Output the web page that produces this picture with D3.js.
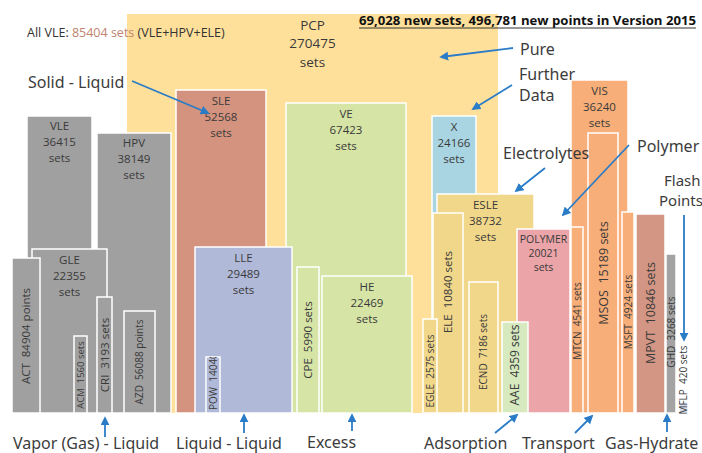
<!DOCTYPE html>
<html>
<head>
<meta charset="utf-8">
<script src="https://cdn.jsdelivr.net/npm/d3@7"></script>
<style>
  body { margin: 0; background: #fff; }
  svg { display: block; }
</style>
</head>
<body>
<svg id="chart"></svg>
<script>
// data sets
const names  = ["PCP","VLE","HPV","GLE","ACT","ACM","CRI","AZD","SLE","VE","LLE","POW","CPE","HE","X","ESLE","ELE","EGLE","ECND","POLYMER","AAE","VIS","MTCN","MSOS","MSFT","MPVT","GHD","MFLP"]
const values = [270475,36415,38149,22355,84904,1560,3193,56088,52568,67423,29489,14040,5990,22469,24166,38732,10840,2575,7186,20021,4359,36240,4541,15189,4924,10846,3268,420]
const units  = ["sets","sets","sets","sets","points","sets","sets","points","sets","sets","sets","sets","sets","sets","sets","sets","sets","sets","sets","sets","sets","sets","sets","sets","sets","sets","sets","sets"]

const groupLabels = ["Vapor (Gas) - Liquid","Liquid - Liquid","Excess","Adsorption","Transport","Gas-Hydrate"]
const sideLabels  = ["Solid - Liquid","Pure","Further","Data","Electrolytes","Polymer","Flash","Points"]
const headline = "69,028 new sets, 496,781 new points in Version 2015"
const allVle = ["All VLE: ", "85404 sets", " (VLE+HPV+ELE)"]

const w = 702
const h = 453

// layout: left, right, height above baseline, colour, label mode, label y, font size
const layout = {
  PCP:     [127, 498, 399, "#fee09b", "h", 25, 13.5],
  VLE:     [27, 92, 297, "#a0a0a0", "h", 126, 11.5],
  HPV:     [97, 171, 280, "#a0a0a0", "h", 143, 11.5],
  GLE:     [32, 107, 164, "#a0a0a0", "h", 260, 11.5],
  ACT:     [12, 40, 155, "#a0a0a0", "v", 336, 11.5],
  ACM:     [74, 87, 77, "#a0a0a0", "v", 375, 9.5],
  CRI:     [97, 112, 116, "#a0a0a0", "v", 355, 11.5],
  AZD:     [124, 155, 102, "#a0a0a0", "v", 362, 10],
  SLE:     [176, 266, 323, "#d4937f", "h", 101, 11.5],
  VE:      [286, 406, 310, "#d6e4a6", "h", 114, 11.5],
  LLE:     [195, 292, 166, "#b0b9d8", "h", 258, 11.5],
  POW:     [206, 220, 56, "#b0b9d8", "clip", 410, 10],
  CPE:     [297, 319, 146, "#d6e4a6", "v", 340, 11.5],
  HE:      [322, 412, 137, "#d6e4a6", "h", 287, 11.5],
  X:       [432, 476, 297, "#a9d5e2", "h", 127, 11.5],
  ESLE:    [437, 534, 219, "#f1d78a", "h", 205, 11.5],
  ELE:     [433, 463, 200, "#f1d78a", "v", 292, 11.5],
  EGLE:    [423, 437, 94, "#f1d78a", "v", 371, 10],
  ECND:    [469, 498, 131, "#f1d78a", "v", 352, 10],
  POLYMER: [517, 570, 184, "#eba5a8", "h", 239, 10.5],
  AAE:     [502, 528, 91, "#d6e9bf", "v", 365, 12],
  VIS:     [571, 628, 333, "#f8ae78", "h", 91, 11.5],
  MTCN:    [571, 583, 186, "#f8ae78", "v", 321, 10],
  MSOS:    [588, 618, 280, "#f8ae78", "v", 273, 12.5],
  MSFT:    [622, 634, 201, "#f8ae78", "v", 312, 10],
  MPVT:    [636, 665, 199, "#d49684", "v", 313, 12.5],
  GHD:     [666, 676, 159, "#a3a3a3", "v", 332, 10],
  MFLP:    [679, 688, 11, "#d5dcee", "v", 380, 10]
}

// positions of the call-outs: [x, baseline, font size]
const sidePos  = [[28, 88, 16], [520, 55, 16], [519, 80, 16], [519, 101, 16], [503, 159, 16], [637, 152, 16], [664, 186, 15], [659, 206, 15]]
const groupPos = [[13, 449], [176, 449], [307, 448], [424, 449], [522, 449], [605, 449]]
const arrows = [
  [132, 81, 208, 113], [513, 48, 441, 57], [512, 85, 473, 109], [545, 168, 516, 191],
  [629, 145, 563, 215], [684, 215, 684, 340], [105, 437, 105, 418], [244, 433, 244, 415],
  [352, 431, 352, 415], [495, 433, 517, 415], [575, 433, 592, 416], [667, 432, 667, 415]
]

let svg = d3.select("#chart").attr("width", w).attr("height", h)

let xScale = d3.scaleLinear().domain([0, w]).range([0, w])
let yScale = d3.scaleLinear().domain([0, 400]).range([413, 13])

let boxes = names.map((n, i) => {
  let l = layout[n]
  return { name: n, value: values[i], unit: units[i], x0: l[0], x1: l[1], hgt: l[2],
    color: l[3], mode: l[4], ly: l[5], fs: l[6] }
})

let defs = svg.append("defs")
defs.append("marker")
  .attr("id", "arr")
  .attr("viewBox", "0 0 10 10")
  .attr("refX", 8).attr("refY", 5)
  .attr("markerWidth", 5).attr("markerHeight", 5)
  .attr("orient", "auto")
  .append("path")
  .attr("d", "M0,0 L10,5 L0,10 z")
  .attr("fill", "#2a7cc7")

let drawBox = (d) => {
  let g = svg.append("g")
  let bx = xScale(d.x0), bw = xScale(d.x1) - xScale(d.x0)
  let by = yScale(d.hgt), bh = yScale(0) - yScale(d.hgt)
  g.append("rect")
    .attr("x", bx).attr("y", by)
    .attr("width", bw).attr("height", bh)
    .attr("fill", d.color)
    .attr("stroke", d.name === "PCP" ? "none" : "#fff")
    .attr("stroke-width", 1.5)

  let cx = bx + bw / 2
  let holder = g
  if (d.mode === "clip") {
    // label runs past the top of the box and gets cut off
    defs.append("clipPath").attr("id", "clip-" + d.name)
      .append("rect").attr("x", bx).attr("y", by).attr("width", bw).attr("height", bh)
    holder = g.append("g").attr("clip-path", `url(#clip-${d.name})`)
  }
  let txt = holder.append("text")
    .attr("font-family", "'Open Sans', sans-serif")
    .attr("font-size", d.fs)
    .attr("fill", "#3a3a3a")

  if (d.mode === "h") {
    let step = d.name === "PCP" ? 18.5 : (d.name === "POLYMER" ? 14 : 16)
    let lines = [d.name, d.value, d.unit]
    lines.forEach((s, i) => {
      txt.append("tspan")
        .attr("x", cx).attr("y", d.ly + i * step)
        .attr("dy", "0.35em")
        .attr("text-anchor", "middle")
        .text(s)
    })
  } else {
    txt.attr("transform", `translate(${cx},${d.ly}) rotate(-90)`)
      .attr("text-anchor", d.mode === "clip" ? "start" : "middle")
      .attr("dy", "0.36em")
      .attr("xml:space", "preserve")
      .text(`${d.name}  ${d.value} ${d.unit}`)
  }
}

boxes.forEach(drawBox)

// headline
svg.append("text")
  .attr("x", 359).attr("y", 25)
  .attr("font-family", "'Open Sans', sans-serif")
  .attr("font-weight", "bold")
  .attr("font-size", 12.5)
  .attr("fill", "#111")
  .attr("textLength", 337)
  .attr("lengthAdjust", "spacingAndGlyphs")
  .text(headline)
svg.append("line")
  .attr("x1", 359).attr("x2", 696).attr("y1", 28).attr("y2", 28)
  .attr("stroke", "#333").attr("stroke-width", 1)

// all VLE note
let note = svg.append("text")
  .attr("x", 27).attr("y", 37)
  .attr("font-family", "'Open Sans', sans-serif")
  .attr("font-size", 12.5)
  .attr("fill", "#333")
note.append("tspan").text(allVle[0])
note.append("tspan").attr("fill", "#c08470").text(allVle[1])
note.append("tspan").text(allVle[2])

// call-outs
svg.selectAll(".side")
  .data(sideLabels)
  .enter()
  .append("text")
  .attr("class", "side")
  .attr("x", (d, i) => sidePos[i][0])
  .attr("y", (d, i) => sidePos[i][1])
  .attr("font-family", "'Noto Sans', sans-serif")
  .attr("font-size", (d, i) => sidePos[i][2])
  .attr("fill", "#3c3c3c")
  .text(d => d)

svg.selectAll(".group")
  .data(groupLabels)
  .enter()
  .append("text")
  .attr("class", "group")
  .attr("x", (d, i) => groupPos[i][0])
  .attr("y", (d, i) => groupPos[i][1])
  .attr("font-family", "'Noto Sans', sans-serif")
  .attr("font-size", 16)
  .attr("fill", "#3c3c3c")
  .text(d => d)

svg.selectAll(".arrow")
  .data(arrows)
  .enter()
  .append("line")
  .attr("class", "arrow")
  .attr("x1", d => d[0]).attr("y1", d => d[1])
  .attr("x2", d => d[2]).attr("y2", d => d[3])
  .attr("stroke", "#2a7cc7")
  .attr("stroke-width", 1.8)
  .attr("marker-end", "url(#arr)")
</script>
</body>
</html>
